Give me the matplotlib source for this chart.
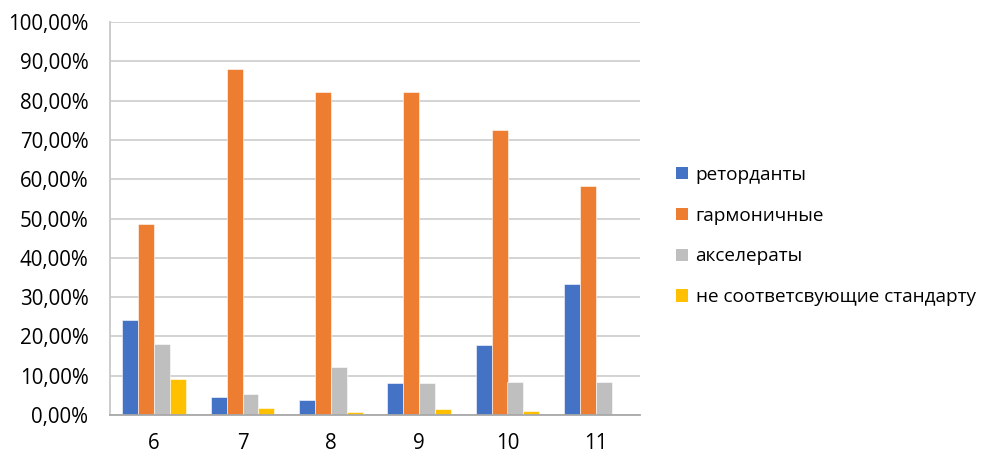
import matplotlib
matplotlib.use("Agg")
import matplotlib.pyplot as plt
import numpy as np
from matplotlib.patches import Patch
from matplotlib.ticker import FuncFormatter, MultipleLocator

plt.rcParams['font.family'] = ['Open Sans', 'DejaVu Sans']

ages = ["6", "7", "8", "9", "10", "11"]
series_names = ["реторданты", "гармоничные", "акселераты", "не соответсвующие стандарту"]
retardants = [24.2, 4.6, 3.8, 8.1, 17.8, 33.3]
harmonious = [48.5, 88.0, 82.2, 82.2, 72.5, 58.3]
accelerates = [18.1, 5.4, 12.3, 8.1, 8.3, 8.3]
non_standard = [9.1, 1.8, 0.7, 1.4, 1.0, 0.0]
colors = ["#4472C4", "#ED7D31", "#BEBFBE", "#FFC000"]

values = [retardants, harmonious, accelerates, non_standard]

fig = plt.figure(figsize=(9.92, 4.54), dpi=100)
ax = fig.add_axes([110 / 992, 39 / 454, 530 / 992, 393 / 454])

x = np.arange(len(ages))
bw = 0.181
for i, (vals, col) in enumerate(zip(values, colors)):
    ax.bar(x + (i - 1.5) * bw, vals, width=bw, color=col,
           edgecolor="white", linewidth=0.4, zorder=3)

ax.set_xlim(-0.5, len(ages) - 0.5)
ax.set_ylim(0, 100)
ax.yaxis.set_major_locator(MultipleLocator(10))
ax.yaxis.set_major_formatter(FuncFormatter(lambda v, p: f"{v:.2f}".replace(".", ",") + "%"))
ax.set_xticks(x)
ax.set_xticklabels(ages)
ax.tick_params(axis="both", length=0, labelsize=14.8, colors="#000000")
ax.tick_params(axis="x", pad=13)
ax.tick_params(axis="y", pad=15.5)
ax.grid(axis="y", color="#D0D0D0", linewidth=1.3, zorder=0)
for s in ["top", "right"]:
    ax.spines[s].set_visible(False)
ax.spines["left"].set_color("#C8C8C8")
ax.spines["left"].set_linewidth(1.3)
ax.spines["bottom"].set_color("#A8A8A8")
ax.spines["bottom"].set_linewidth(1.3)
ax.spines["bottom"].set_zorder(4)

handles = [Patch(facecolor=c, edgecolor="none") for c in colors]
fig.legend(handles, series_names, loc="center left",
           bbox_to_anchor=(659 / 992, 218 / 454), frameon=False,
           fontsize=13.7, handlelength=0.62, handleheight=0.62,
           handletextpad=0.4, labelspacing=1.2)

fig.savefig("out.png", dpi=100, facecolor="white")
